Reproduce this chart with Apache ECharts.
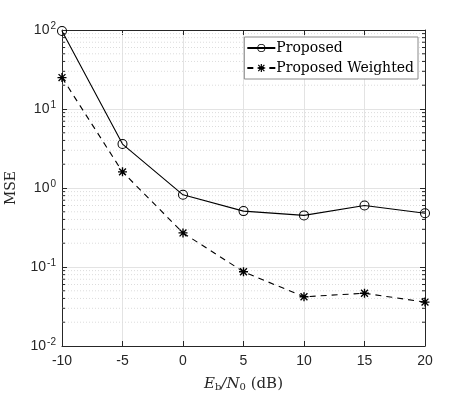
<!DOCTYPE html>
<html>
<head>
<meta charset="UTF-8">
<title>MSE vs Eb/N0</title>
<script src="https://cdn.jsdelivr.net/npm/echarts@6/dist/echarts.min.js"></script>
<style>
  html, body { margin: 0; padding: 0; background: #fff; }
</style>
</head>
<body>
<div id="main" style="width:470px; height:393px;"></div>
<script type="text/javascript">
// x values (Eb/N0 in dB)
var snr = [-10, -5, 0, 5, 10, 15, 20];
// MSE values
var proposed = [97, 3.6, 0.82, 0.51, 0.45, 0.60, 0.48];
var weighted = [25, 1.6, 0.27, 0.087, 0.042, 0.0465, 0.036];
// decades of the y axis, minor steps inside each decade
var decades = [0.01, 0.1, 1, 10];
var minorSteps = [2, 3, 4, 5, 6, 7, 8, 9];

var dark = '#262626';
// asterisk marker (+ and x put together), filled
var asterisk = 'path://M8.5 0L11.5 0L11.5 20L8.5 20Z M0 8.5L20 8.5L20 11.5L0 11.5Z ' +
    'M3.4 1.3L18.7 16.6L16.6 18.7L1.3 3.4Z M16.6 1.3L18.7 3.4L3.4 18.7L1.3 16.6Z';
// open ring, so the line shows through like a MATLAB 'o' marker
var ring = 'path://M10 0A10 10 0 1 1 10 20A10 10 0 1 1 10 0Z ' +
    'M10 2A8 8 0 1 0 10 18A8 8 0 1 0 10 2Z';

function pairs(xs, ys) {
    return xs.map(function (x, i) { return [x, ys[i]]; });
}

var minorVals = [];
decades.forEach(function (d) {
    minorSteps.forEach(function (m) { minorVals.push([-10, +(d * m).toPrecision(3)]); });
});

var myChart = echarts.init(document.getElementById('main'));

var option = {
    animation: false,
    backgroundColor: '#fff',
    grid: { left: 62, right: 45, top: 30, bottom: 47, outerBoundsMode: 'none' },
    legend: {
        right: 52, top: 37,
        orient: 'vertical',
        itemGap: 6,
        itemWidth: 28,
        itemHeight: 10,
        padding: [4, 4, 4, 2],
        backgroundColor: '#fff',
        borderColor: '#8a8a8a',
        borderWidth: 1,
        textStyle: { fontFamily: 'DejaVu Serif', fontSize: 14, color: '#000', padding: [0, 0, 0, -4] },
        data: ['Proposed', 'Proposed Weighted']
    },
    xAxis: [{
        type: 'value', min: -10, max: 20, interval: 5,
        name: '{i|E}{sub|b}{i|/N}{sub|0}{n| (dB)}',
        nameLocation: 'middle', nameGap: 30,
        nameTextStyle: {
            rich: {
                i: { fontFamily: 'DejaVu Serif', fontStyle: 'italic', fontSize: 15, color: dark },
                sub: { fontFamily: 'DejaVu Serif', fontSize: 10, color: dark, verticalAlign: 'bottom', padding: [6, 0, 0, 0] },
                n: { fontFamily: 'DejaVu Serif', fontSize: 15, color: dark }
            }
        },
        axisLine: { onZero: false, lineStyle: { color: dark } },
        axisTick: { inside: true, length: 5, lineStyle: { color: dark } },
        axisLabel: { color: dark, fontFamily: 'Liberation Sans', fontSize: 14, margin: 8 },
        splitLine: { show: true, lineStyle: { color: '#e3e3e3' } }
    }, {
        type: 'value', min: -10, max: 20, interval: 5, position: 'top',
        axisLine: { show: true, onZero: false, lineStyle: { color: dark } },
        axisTick: { show: true, inside: true, length: 5, lineStyle: { color: dark } },
        axisLabel: { show: false }, splitLine: { show: false }
    }],
    yAxis: [{
        type: 'log', logBase: 10, min: 0.01, max: 100,
        name: 'MSE', nameLocation: 'middle', nameGap: 44,
        nameTextStyle: { fontFamily: 'DejaVu Serif', fontSize: 14, color: dark },
        axisLine: { show: true, onZero: false, lineStyle: { color: dark } },
        axisTick: { show: true, inside: true, length: 5, lineStyle: { color: dark } },
        axisLabel: {
            color: dark, margin: 6,
            formatter: function (v) {
                return '{b|10}{s|' + Math.round(Math.log10(v)) + '}';
            },
            rich: {
                b: { fontFamily: 'Liberation Sans', fontSize: 14, color: dark },
                s: { fontFamily: 'Liberation Sans', fontSize: 10, color: dark, verticalAlign: 'top', padding: [0, 0, 8, 1] }
            }
        },
        splitLine: { show: true, lineStyle: { color: '#e3e3e3' } }
    }, {
        type: 'log', logBase: 10, min: 0.01, max: 100, position: 'right',
        axisLine: { show: true, onZero: false, lineStyle: { color: dark } },
        axisTick: { show: true, inside: true, length: 5, lineStyle: { color: dark } },
        axisLabel: { show: false }, splitLine: { show: false }
    }],
    series: [{
        // minor grid lines and minor ticks of the log axis
        type: 'custom',
        silent: true,
        z: 1,
        data: minorVals,
        encode: { x: 0, y: 1 },
        renderItem: function (params, api) {
            var cs = params.coordSys;
            var y = api.coord([-10, api.value(1)])[1];
            return {
                type: 'group',
                children: [{
                    type: 'line',
                    shape: { x1: cs.x, y1: y, x2: cs.x + cs.width, y2: y },
                    style: { stroke: '#dcdcdc', lineWidth: 1, lineDash: [1, 2] }
                }, {
                    type: 'line',
                    shape: { x1: cs.x, y1: y, x2: cs.x + 3, y2: y },
                    style: { stroke: dark, lineWidth: 1 }
                }, {
                    type: 'line',
                    shape: { x1: cs.x + cs.width - 3, y1: y, x2: cs.x + cs.width, y2: y },
                    style: { stroke: dark, lineWidth: 1 }
                }]
            };
        }
    }, {
        name: 'Proposed',
        type: 'line',
        z: 3,
        data: pairs(snr, proposed),
        symbol: ring,
        symbolSize: 10,
        showAllSymbol: true,
        color: '#000',
        lineStyle: { color: '#000', width: 1.1 },
        itemStyle: { color: '#000', borderWidth: 0 }
    }, {
        name: 'Proposed Weighted',
        type: 'line',
        z: 3,
        data: pairs(snr, weighted),
        symbol: asterisk,
        symbolSize: 9,
        color: '#000',
        lineStyle: { color: '#000', width: 1.1, type: [6, 5] },
        itemStyle: { color: '#000', borderWidth: 0 }
    }]
};

myChart.setOption(option);
</script>
</body>
</html>
